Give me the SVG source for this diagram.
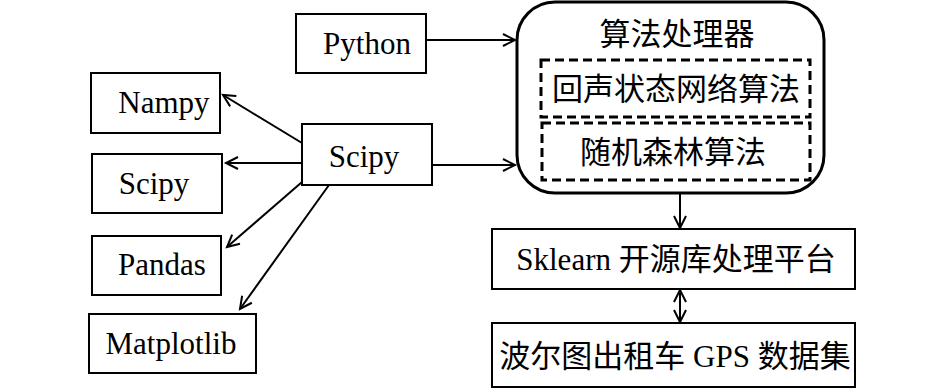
<svg xmlns="http://www.w3.org/2000/svg" width="945" height="390" viewBox="0 0 945 390">
<style>
.box{fill:#fff;stroke:#000;stroke-width:2}
.rbox{fill:#fff;stroke:#000;stroke-width:3}
.dbox{fill:none;stroke:#000;stroke-width:3;stroke-dasharray:9,5}
text{font-family:'Liberation Serif','Times New Roman','Noto Sans CJK SC',serif;fill:#000;text-anchor:middle;font-size:31px}
.ln{stroke:#000;stroke-width:2;fill:none}
</style>
<defs>
<marker id="ah" markerUnits="userSpaceOnUse" markerWidth="16" markerHeight="16" refX="13" refY="7" orient="auto">
<path d="M1,1 L13,7 L1,13" fill="none" stroke="#000" stroke-width="2"/>
</marker>
<marker id="as" markerUnits="userSpaceOnUse" markerWidth="16" markerHeight="16" refX="1" refY="7" orient="auto">
<path d="M13,1 L1,7 L13,13" fill="none" stroke="#000" stroke-width="2"/>
</marker>
</defs>
<rect width="945" height="390" fill="#fff"/>
<g id="connectors">
<line class="ln" x1="426" y1="40" x2="515" y2="40" marker-end="url(#ah)"/>
<line class="ln" x1="432" y1="165" x2="515" y2="165" marker-end="url(#ah)"/>
<line class="ln" x1="302" y1="143" x2="223" y2="95" marker-end="url(#ah)"/>
<line class="ln" x1="302" y1="163" x2="226" y2="163" marker-end="url(#ah)"/>
<line class="ln" x1="302" y1="182" x2="227" y2="247" marker-end="url(#ah)"/>
<line class="ln" x1="329" y1="185" x2="240" y2="309" marker-end="url(#ah)"/>
<line class="ln" x1="680" y1="193" x2="680" y2="228" marker-end="url(#ah)"/>
<line class="ln" x1="680" y1="290" x2="680" y2="322" marker-start="url(#as)" marker-end="url(#ah)"/>
</g>
<g id="python"><rect class="box" x="296" y="14" width="130" height="59"/><text x="367" y="54">Python</text></g>
<g id="scipy-main"><rect class="box" x="302" y="124" width="130" height="61"/><text x="364" y="167">Scipy</text></g>
<g id="nampy"><rect class="box" x="91" y="73" width="129" height="60"/><text x="164" y="113">Nampy</text></g>
<g id="scipy"><rect class="box" x="92" y="154" width="130" height="59"/><text x="154" y="194">Scipy</text></g>
<g id="pandas"><rect class="box" x="92" y="236" width="129" height="59"/><text x="162" y="275">Pandas</text></g>
<g id="matplotlib"><rect class="box" x="89" y="314" width="167" height="59"/><text x="171" y="354">Matplotlib</text></g>
<g id="processor">
<rect class="rbox" x="517" y="2" width="307" height="191" rx="38" ry="38"/>
<text x="677" y="45">算法处理器</text>
</g>
<g id="esn"><rect class="dbox" x="541" y="60" width="269" height="57"/><text x="676" y="100">回声状态网络算法</text></g>
<g id="rf"><rect class="dbox" x="542" y="123" width="268" height="57"/><text x="673" y="163">随机森林算法</text></g>
<g id="sklearn"><rect class="box" x="492" y="229" width="363" height="60"/><text x="676" y="270">Sklearn 开源库处理平台</text></g>
<g id="gps"><rect class="box" x="492" y="323" width="363" height="64"/><text x="675" y="367">波尔图出租车 GPS 数据集</text></g>
</svg>
